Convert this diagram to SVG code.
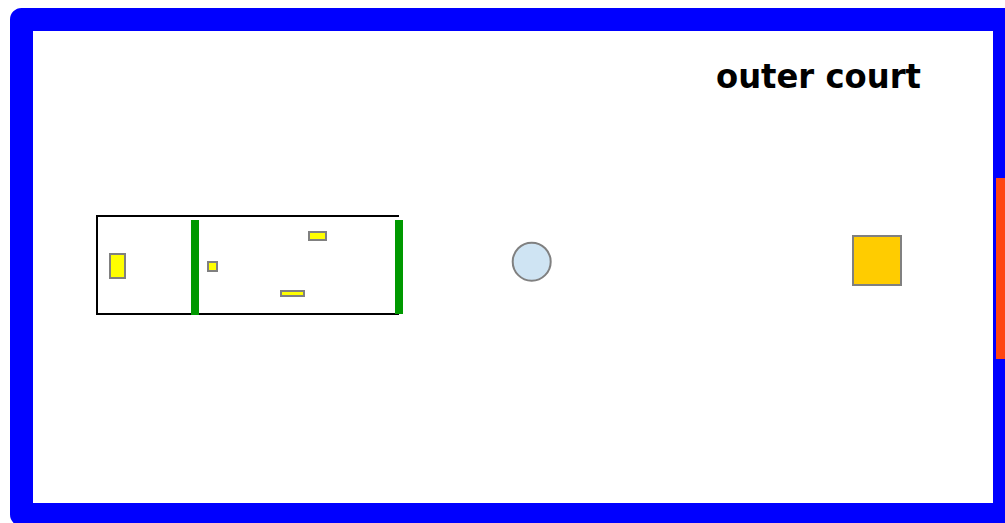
<svg xmlns="http://www.w3.org/2000/svg" width="1005" height="523" viewBox="0 0 1005 523">
<style>
.item{fill:#ffff00;stroke:#808080;stroke-width:2}
.wall{fill:#009900}
.line{stroke:#000;stroke-width:2;fill:none}
</style>
<rect x="0" y="0" width="1005" height="523" fill="#ffffff"/>
<g id="court">
<rect x="21.5" y="19.5" width="983" height="495" fill="#ffffff" stroke="#0000ff" stroke-width="23" stroke-linejoin="round"/>
<rect x="996" y="178" width="12" height="181" fill="#ff4513"/>
<text x="716" y="88" font-family="'Comic Sans MS','DejaVu Sans',sans-serif" font-weight="bold" font-size="33" textLength="205" lengthAdjust="spacingAndGlyphs" fill="#000">outer court</text>
</g>
<g id="building">
<path class="line" d="M96 216 H399 M97 216 V315 M96 314 H399"/>
<rect class="wall" x="191" y="220" width="8" height="95"/>
<rect class="wall" x="395" y="220" width="8" height="94"/>
<rect class="item" x="110" y="254" width="15" height="24"/>
<rect class="item" x="208" y="262" width="9" height="9"/>
<rect class="item" x="309" y="232" width="17" height="8"/>
<rect class="item" x="281" y="291" width="23" height="5"/>
</g>
<g id="basin">
<circle cx="531.7" cy="261.7" r="19" fill="#cfe4f3" stroke="#808080" stroke-width="2"/>
</g>
<g id="altar">
<rect x="853" y="236" width="48" height="49" fill="#ffcc00" stroke="#808080" stroke-width="2"/>
</g>
<g id="connectors"></g>
</svg>
